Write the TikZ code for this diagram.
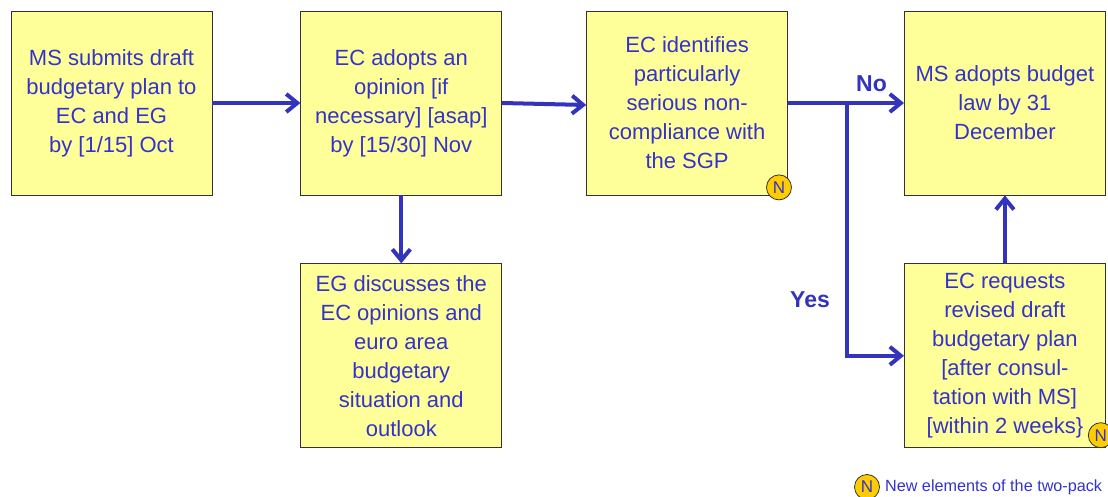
\documentclass[tikz,border=0pt]{standalone}
\usepackage{fontspec}
\setmainfont{Liberation Sans}
\usetikzlibrary{arrows.meta, positioning, calc}
\definecolor{boxfill}{HTML}{FFFF99}
\definecolor{textblue}{HTML}{3333CC}
\definecolor{arrowblue}{HTML}{3333BB}
\definecolor{newdot}{HTML}{FFCC00}
\tikzstyle{block} = [rectangle, draw=black!80, line width=0.8pt, fill=boxfill, text=textblue, align=center, minimum width=201pt, minimum height=184pt, font=\fontsize{22}{29}\selectfont]
\tikzstyle{line} = [draw=arrowblue, line width=4pt, -{Straight Barb[length=11pt,width=18pt]}]
\tikzstyle{newmark} = [circle, draw=black!80, line width=0.8pt, fill=newdot, minimum size=25pt, inner sep=0pt, text=textblue, font=\fontsize{17}{17}\selectfont]
\tikzstyle{answer} = [text=arrowblue, font=\bfseries\fontsize{23}{23}\selectfont]

\begin{document}
\begin{tikzpicture}[node distance=88pt]
\useasboundingbox (0,0) rectangle (1108pt,-497pt);

\node[block] (ms) at (111.5pt,-103pt) {MS submits draft\\budgetary plan to\\EC and EG\\by [1/15] Oct};
\node[block, right=88pt of ms] (ec) {EC adopts an\\opinion [if\\necessary] [asap]\\by [15/30] Nov};
\node[block, right=84pt of ec] (sgp) {EC identifies\\particularly\\serious non-\\compliance with\\the SGP};
\node[block, right=116pt of sgp] (law) {MS adopts budget\\law by 31\\December};
\node[block, below=68pt of ec] (eg) {EG discusses the\\EC opinions and\\euro area\\budgetary\\situation and\\outlook};
\node[block, below=68pt of law] (rev) {EC requests\\revised draft\\budgetary plan\\{[}after consul-\\tation with MS]\\{[}within 2 weeks\}};

% new elements
\node[newmark] (n1) at ([shift={(-9pt,8pt)}]sgp.south east) {N};
\node[newmark] (n2) at ([shift={(-5pt,13pt)}]rev.south east) {N};
\node[newmark] (key) at (867pt,-487pt) {N};
\node[right=4pt of key, inner sep=1pt, text=textblue, font=\fontsize{16.2}{16.2}\selectfont] (keytext) {New elements of the two-pack};

\coordinate (split) at ($(sgp.east)!0.51!(law.west)$);

\draw[line] (ms) -- (ec);
\draw[line] (ec.east) -- ([yshift=-2pt]sgp.west);
\draw[line] (sgp.east) -- (law.west) node[answer, pos=0.72, above=6pt] {No};
\draw[line] (split) |- node[answer, pos=0.39, left=12pt] {Yes} (rev.west);
\draw[line] (rev) -- (law);
\draw[line] (ec) -- (eg);
\end{tikzpicture}
\end{document}
